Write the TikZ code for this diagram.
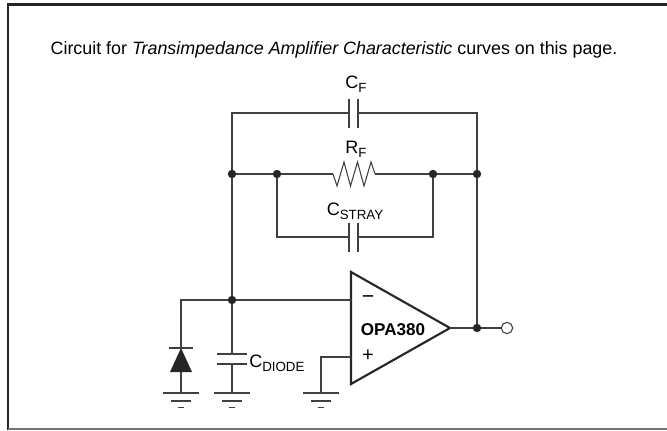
\documentclass[tikz,border=0pt]{standalone}
\usepackage{fontspec}
\setmainfont{Liberation Sans}
\newcommand{\lsub}[1]{\raisebox{-3.2pt}{\fontsize{10}{12}\selectfont #1}}
\begin{document}
\begin{tikzpicture}[x=0.75pt,y=-0.75pt,
		wire/.style={line width=0.8pt, draw=black!75},
		dot/.style={circle, fill=black!85, inner sep=0pt, minimum size=6.3pt},
		lbl/.style={font=\fontsize{13.5}{15}\selectfont, inner sep=0pt}]
		\useasboundingbox (0,0) rectangle (667,430);
		
		% frame
		\draw [line width=1.6pt, black!85] (8,430) -- (8,4.5) -- (667,4.5);
		\draw [line width=0.8pt, black!55] (8,429) -- (667,429);
		
		\node [font=\fontsize{13.4}{16}\selectfont] (title) at (334,50) {Circuit for \textit{Transimpedance Amplifier Characteristic} curves on this page.};
		
		% junctions
		\coordinate (tl) at (232,113);
		\coordinate (tr) at (477,113);
		\coordinate (cfL) at (349,113);
		\coordinate (cfR) at (358,113);
		\node [dot] (nA) at (232,174) {};
		\node [dot] (nB) at (277,174) {};
		\node [dot] (nC) at (433,174) {};
		\node [dot] (nD) at (477,174) {};
		\coordinate (rfL) at (333,174);
		\coordinate (rfR) at (375,174);
		\coordinate (sl) at (277,237);
		\coordinate (sr) at (433,237);
		\coordinate (csL) at (349,237);
		\coordinate (csR) at (358,237);
		\node [dot] (nIn) at (232,300) {};
		\node [dot] (nOut) at (477,328) {};
		\node [circle, wire, fill=white, inner sep=0pt, minimum size=8.5pt] (vo) at (507,328) {};
		
		% op amp
		\coordinate (ampT) at (351,272);
		\coordinate (ampB) at (351,384);
		\coordinate (ampO) at (450,328);
		\coordinate (ampM) at (351,300);
		\coordinate (ampP) at (351,357);
		\draw [line width=1.6pt, black!85, line join=miter] (ampT) -- (ampO) -- (ampB) -- cycle;
		
		% feedback
		\draw [wire] (nA) -- (tl) -- (cfL);
		\draw [wire] (cfR) -- (tr) -- (nD);
		\draw [wire] (cfL) ++(0,-14.5) -- ++(0,29);
		\draw [wire] (cfR) ++(0,-14.5) -- ++(0,29);
		\draw [wire] (nA) -- (nB) -- (rfL);
		\draw [wire, line join=miter] (rfL) -- ++(4,12) -- ++(7,-24) -- ++(6.5,24) -- ++(7,-24) -- ++(6.5,24) -- ++(7,-24) -- (rfR);
		\draw [wire] (rfR) -- (nC) -- (nD);
		\draw [wire] (nB) -- (sl) -- (csL);
		\draw [wire] (csR) -- (sr) -- (nC);
		\draw [wire] (csL) ++(0,-14.5) -- ++(0,29);
		\draw [wire] (csR) ++(0,-14.5) -- ++(0,29);
		\draw [wire] (nD) -- (nOut);
		
		% input side
		\coordinate (dTop) at (181,300);
		\coordinate (dK) at (181,348);
		\coordinate (dA) at (181,372);
		\coordinate (cdT) at (232,354);
		\coordinate (cdB) at (232,364);
		\coordinate (pG) at (321,357);
		\draw [wire] (nA) -- (nIn) -- (ampM);
		\draw [wire] (nIn) -- (dTop) -- (dK);
		\fill [black!85] (dK) -- ++(11,24) -- ++(-22,0) -- cycle;
		\draw [wire] (dK) ++(-12,0) -- ++(24,0);
		\draw [wire] (dA) -- (181,393);
		\draw [wire] (nIn) -- (cdT);
		\draw [wire] (cdT) ++(-15,0) -- ++(30,0);
		\draw [wire] (cdB) ++(-15,0) -- ++(30,0);
		\draw [wire] (cdB) -- (232,393);
		\draw [wire] (321,393) -- (pG) -- (ampP);
		\draw [wire] (ampO) -- (nOut) -- (vo);
		
		% grounds
		\foreach \gx in {181,232,321} {
			\draw [wire] (\gx-18,393) -- (\gx+18,393);
			\draw [wire] (\gx-10,401) -- (\gx+10,401);
			\draw [wire] (\gx-3,407.5) -- (\gx+3,407.5);
		}
		
		\node [lbl, anchor=base] (cfLab) at (356,88) {C\lsub{F}};
		\node [lbl, anchor=base] (rfLab) at (356,153) {R\lsub{F}};
		\node [lbl, anchor=base] (csLab) at (355,215) {C\lsub{STRAY}};
		\node [lbl, anchor=base west] (cdLab) at (249,367) {C\lsub{DIODE}};
		\node [lbl, anchor=base, font=\fontsize{12.8}{15}\bfseries] (ampLab) at (393,335) {OPA380};
		\node [lbl, font=\fontsize{16}{18}\selectfont] (minus) at (368,300) {−};
		\node [lbl, font=\fontsize{15}{18}\selectfont] (plus) at (368,356) {+};
	\end{tikzpicture}
\end{document}
